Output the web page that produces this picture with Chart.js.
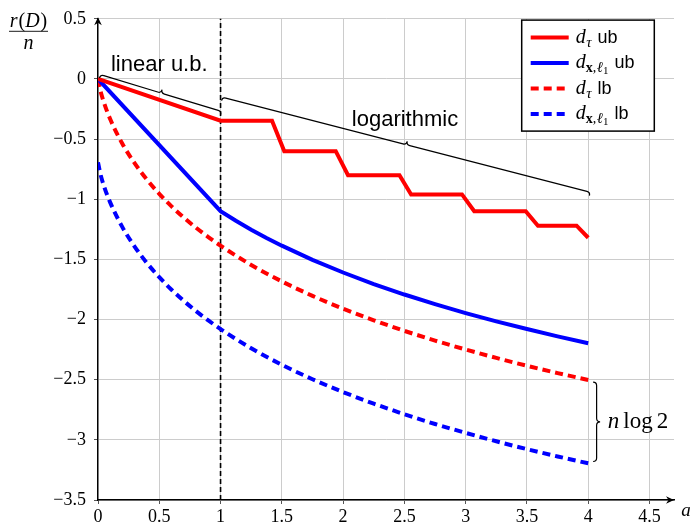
<!DOCTYPE html>
<html>
<head>
<meta charset="utf-8">
<script src="https://cdn.jsdelivr.net/npm/chart.js@4.4.0/dist/chart.umd.min.js"></script>
<style>
  html, body { margin: 0; padding: 0; background: #fff; }
  #wrap { width: 691px; height: 526px; }
</style>
</head>
<body>
<div id="wrap"><canvas id="myChart"></canvas></div>
<script>
// values (a on x, r(D)/n on y)
const ubTauA = [0, 1, 1.42, 1.52, 1.94, 2.04, 2.46, 2.555, 2.97, 3.07, 3.49, 3.59, 3.905, 4];
const ubTauR = [0, -0.347, -0.347, -0.6, -0.6, -0.8, -0.8, -0.96, -0.96, -1.1, -1.1, -1.22, -1.22, -1.32];

const ubXA = [0, 1, 1.125, 1.25, 1.375, 1.5, 1.75, 2, 2.25, 2.5, 2.75, 3, 3.25, 3.5, 3.75, 4];
const ubXR = [0, -1.099, -1.179, -1.253, -1.322, -1.386, -1.504, -1.609, -1.705, -1.792, -1.872, -1.946, -2.015, -2.079, -2.14, -2.197];

const lbA = [0, 0.02, 0.05, 0.1, 0.2, 0.3, 0.4, 0.5, 0.6, 0.7, 0.8, 0.9, 1, 1.25, 1.5, 1.75, 2, 2.25, 2.5, 2.75, 3, 3.25, 3.5, 3.75, 4];
const lbTauR = [0, -0.098, -0.201, -0.335, -0.541, -0.702, -0.838, -0.955, -1.059, -1.152, -1.237, -1.314, -1.386, -1.546, -1.683, -1.803, -1.91, -2.006, -2.094, -2.175, -2.249, -2.319, -2.384, -2.445, -2.502];
const lbXR = [-0.693, -0.791, -0.894, -1.028, -1.234, -1.395, -1.531, -1.648, -1.752, -1.845, -1.93, -2.007, -2.079, -2.239, -2.376, -2.496, -2.603, -2.699, -2.787, -2.868, -2.942, -3.012, -3.077, -3.138, -3.195];

const seriesNames = ['d_τ ub', 'd_x,ℓ1 ub', 'd_τ lb', 'd_x,ℓ1 lb'];

// annotations (data coordinates)
const braceFrom = [[0.012, 0.008], [1.008, -0.18], [4.04, -2.52]];
const braceTo = [[1.0, -0.298], [4.01, -0.97], [4.04, -3.18]];
const noteAt = [[0.5, 0.115], [2.505, -0.34], [4.16, -2.85]];
const noteText = ['linear u.b.', 'logarithmic', 'n log 2'];
const splitAt = 1;

const SERIF = '"Liberation Serif", "DejaVu Serif", serif';
const SANS = '"Liberation Sans", Arial, sans-serif';
const RED = 'rgb(255, 0, 0)';
const BLUE = 'rgb(0, 0, 255)';

const pts = (xs, ys) => xs.map((x, i) => ({ x: x, y: ys[i] }));

function brace(ctx, x1, y1, x2, y2, amp) {
    const L = Math.hypot(x2 - x1, y2 - y1);
    const ux = (x2 - x1) / L, uy = (y2 - y1) / L;
    const nx = uy, ny = -ux;
    const h = amp / 2;
    const P = (s, t) => [x1 + ux * s + nx * t, y1 + uy * s + ny * t];
    ctx.beginPath();
    ctx.moveTo(...P(0, 0));
    ctx.quadraticCurveTo(...P(0, h), ...P(h, h));
    ctx.lineTo(...P(L / 2 - h, h));
    ctx.quadraticCurveTo(...P(L / 2, h), ...P(L / 2, amp));
    ctx.quadraticCurveTo(...P(L / 2, h), ...P(L / 2 + h, h));
    ctx.lineTo(...P(L - h, h));
    ctx.quadraticCurveTo(...P(L, h), ...P(L, 0));
    ctx.stroke();
}

// draw runs of [text, font, dy, dx] left to right
function runs(ctx, list, x, y, draw) {
    let cx = x;
    list.forEach(r => {
        ctx.font = r[1];
        cx += r[3] || 0;
        if (draw) ctx.fillText(r[0], cx, y + (r[2] || 0));
        cx += ctx.measureText(r[0]).width;
    });
    return cx - x;
}

function labelRuns(name) {
    const base = name.split('_')[0];
    const rest = name.split('_')[1].split(' ');
    const list = [[base, 'italic 20px ' + SERIF, 0]];
    for (const c of rest[0]) {
        if (c === 'x') list.push([c, 'bold 14px ' + SERIF, 4]);
        else if (c === ',') list.push([c, '14px ' + SERIF, 4]);
        else if (/[0-9]/.test(c)) list.push([c, '11px ' + SERIF, 6]);
        else list.push([c, 'italic 15px ' + SERIF, 4, 0.5]);
    }
    list.push([rest[1], '18px ' + SANS, 0, 6]);
    return list;
}

function arrowHead(ctx, x, y, dx, dy) {
    const nx = -dy, ny = dx;
    ctx.beginPath();
    ctx.moveTo(x, y);
    ctx.lineTo(x - dx * 8 + nx * 3.8, y - dy * 8 + ny * 3.8);
    ctx.lineTo(x - dx * 5.5, y - dy * 5.5);
    ctx.lineTo(x - dx * 8 - nx * 3.8, y - dy * 8 - ny * 3.8);
    ctx.closePath();
    ctx.fill();
}

const extras = {
    id: 'extras',
    beforeDatasetsDraw(chart) {
        const ctx = chart.ctx, xs = chart.scales.x, ys = chart.scales.y;
        ctx.save();
        ctx.strokeStyle = '#000';
        ctx.lineWidth = 1.6;
        ctx.setLineDash([5, 3]);
        ctx.beginPath();
        ctx.moveTo(xs.getPixelForValue(splitAt), ys.getPixelForValue(ys.min));
        ctx.lineTo(xs.getPixelForValue(splitAt), ys.getPixelForValue(ys.max));
        ctx.stroke();
        ctx.restore();
    },
    afterDraw(chart) {
        const ctx = chart.ctx, a = chart.chartArea;
        const xs = chart.scales.x, ys = chart.scales.y;
        ctx.save();
        ctx.fillStyle = '#000';
        ctx.strokeStyle = '#000';

        // axis arrows
        arrowHead(ctx, a.right, a.bottom, 1, 0);
        arrowHead(ctx, a.left, a.top - 1.5, 0, -1);

        // braces and notes
        ctx.lineWidth = 1.2;
        braceFrom.forEach((p, i) => {
            brace(ctx, xs.getPixelForValue(p[0]), ys.getPixelForValue(p[1]),
                xs.getPixelForValue(braceTo[i][0]), ys.getPixelForValue(braceTo[i][1]), 7);
        });
        ctx.textBaseline = 'middle';
        ctx.textAlign = 'center';
        ctx.font = '22px ' + SANS;
        for (let i = 0; i < 2; i++) {
            ctx.fillText(noteText[i], xs.getPixelForValue(noteAt[i][0]), ys.getPixelForValue(noteAt[i][1]));
        }
        ctx.textAlign = 'left';
        const parts = noteText[2].split(' ');
        runs(ctx, [[parts[0], 'italic 23px ' + SERIF, 0], [parts[1], '23px ' + SERIF, 0, 4], [parts[2], '23px ' + SERIF, 0, 4]],
            xs.getPixelForValue(noteAt[2][0]), ys.getPixelForValue(noteAt[2][1]), true);

        // axis titles
        ctx.textBaseline = 'alphabetic';
        const top = [['r', 'italic 20px ' + SERIF, 0], ['(', '20px ' + SERIF, 0, 1], ['D', 'italic 20px ' + SERIF, 0], [')', '20px ' + SERIF, 0, 1]];
        const cx = a.left - 69.5;
        const w = runs(ctx, top, 0, 0, false);
        runs(ctx, top, cx - w / 2, a.top + 8, true);
        ctx.lineWidth = 0.9;
        ctx.beginPath();
        ctx.moveTo(cx - 19.5, a.top + 12.5);
        ctx.lineTo(cx + 19.5, a.top + 12.5);
        ctx.stroke();
        ctx.textAlign = 'center';
        ctx.font = 'italic 20px ' + SERIF;
        ctx.fillText('n', cx, a.top + 30);
        ctx.font = 'italic 19px ' + SERIF;
        ctx.fillText('a', a.right + 12, a.bottom + 16);

        // legend
        const bx = a.right - 152.3, by = a.top + 1.3, bw = 132.6, bh = 111;
        ctx.fillStyle = '#fff';
        ctx.fillRect(bx, by, bw, bh);
        ctx.lineWidth = 1.5;
        ctx.strokeRect(bx, by, bw, bh);
        ctx.textAlign = 'left';
        chart.data.datasets.forEach((ds, i) => {
            const yy = by + 17.5 + i * 25.5;
            ctx.strokeStyle = ds.borderColor;
            ctx.lineWidth = ds.borderWidth;
            ctx.setLineDash(ds.borderDash || []);
            ctx.beginPath();
            ctx.moveTo(bx + 9, yy);
            ctx.lineTo(bx + 47, yy);
            ctx.stroke();
            ctx.setLineDash([]);
            ctx.fillStyle = '#000';
            runs(ctx, labelRuns(ds.label), bx + 54, yy + 5, true);
        });
        ctx.restore();
    }
};

const data = {
    datasets: [
        { label: seriesNames[0], data: pts(ubTauA, ubTauR), borderColor: RED, borderWidth: 4, tension: 0 },
        { label: seriesNames[1], data: pts(ubXA, ubXR), borderColor: BLUE, borderWidth: 4, tension: 0 },
        { label: seriesNames[2], data: pts(lbA, lbTauR), borderColor: RED, borderWidth: 4, borderDash: [8, 5], cubicInterpolationMode: 'monotone' },
        { label: seriesNames[3], data: pts(lbA, lbXR), borderColor: BLUE, borderWidth: 4, borderDash: [8, 5], cubicInterpolationMode: 'monotone' }
    ]
};

const tickFont = { family: SERIF, size: 18 };
const tickLabel = v => String(v).replace('-', '\u2212');

const config = {
    type: 'line',
    data: data,
    options: {
        responsive: true,
        maintainAspectRatio: false,
        animation: false,
        layout: { padding: { top: 16, right: 17, left: 0, bottom: 0 } },
        elements: {
            point: { radius: 0 },
            line: { borderCapStyle: 'butt', borderJoinStyle: 'miter', fill: false }
        },
        plugins: {
            legend: { display: false },
            tooltip: { enabled: false }
        },
        scales: {
            x: {
                type: 'linear',
                min: 0,
                max: 4.7,
                afterFit: s => { s.height = 26; },
                ticks: { stepSize: 0.5, includeBounds: false, autoSkip: false, maxRotation: 0, font: tickFont, color: '#000', padding: 2, callback: tickLabel },
                grid: { color: '#cccccc', lineWidth: 1, tickLength: 4, tickColor: '#555' },
                border: { color: '#000', width: 1.4 }
            },
            y: {
                type: 'linear',
                min: -3.5,
                max: 0.5,
                afterFit: s => { s.width = 98; },
                ticks: { stepSize: 0.5, font: tickFont, color: '#000', padding: 8, callback: tickLabel },
                grid: { color: '#cccccc', lineWidth: 1, tickLength: 4, tickColor: '#555' },
                border: { color: '#000', width: 1.4 }
            }
        }
    },
    plugins: [extras]
};

const ctx = document.getElementById('myChart').getContext('2d');
new Chart(ctx, config);
</script>
</body>
</html>
